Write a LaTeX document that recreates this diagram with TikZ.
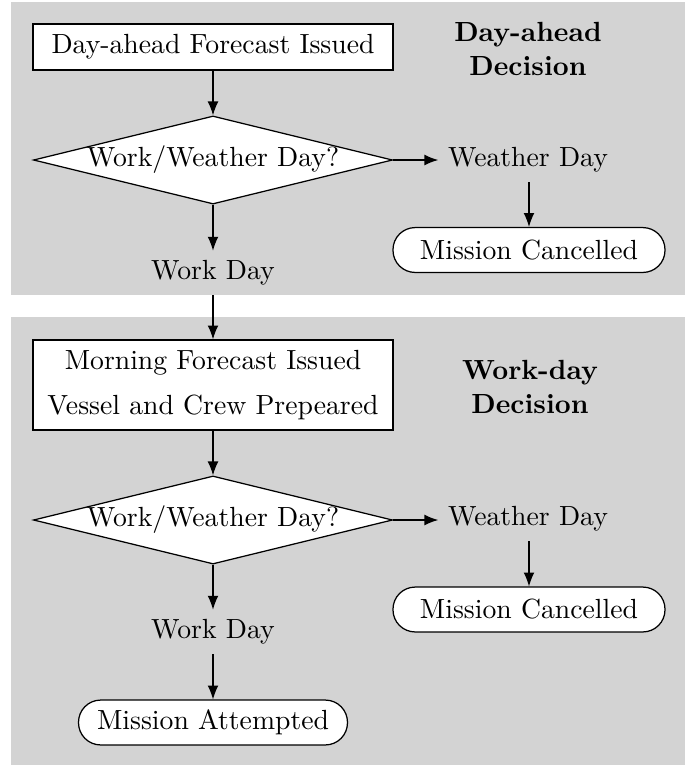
\documentclass[tikz,border=0pt]{standalone}
\usetikzlibrary{shapes.geometric,arrows.meta}
\definecolor{panel}{RGB}{211,211,211}
\begin{document}
\begin{tikzpicture}[x=0.361pt,y=-0.361pt, line width=0.45pt,
  boxnode/.style={draw, fill=white, rectangle, inner sep=0pt, minimum width=130pt},
  decision/.style={draw, fill=white, diamond, inner sep=0pt, minimum width=129.6pt, minimum height=31.8pt},
  endnode/.style={draw, fill=white, rectangle, rounded corners=8pt, inner sep=0pt, minimum height=16.2pt},
  plain/.style={inner sep=3.33pt},
  title/.style={align=center, font=\bfseries},
  arr/.style={-{Latex[length=5pt,width=3.9pt]}}]
\useasboundingbox (0,0) rectangle (697,766);
\fill[white] (0,0) rectangle (697,766);
\fill[panel] (11,2) rectangle (685,295);
\fill[panel] (11,317) rectangle (685,765);

% top panel
\node[boxnode, minimum height=16.6pt] (b1) at (213,47) {Day-ahead Forecast Issued};
\node[decision] (d1) at (213,160) {};
\node[plain] (q1) at (d1) {Work/Weather Day?};
\node[plain] (wd1) at (213,273) {Work Day};
\node[plain] (we1) at (528,160) {Weather Day};
\node[endnode, minimum width=98.2pt] (mc1) at (529,250) {Mission Cancelled};
\node[title] (t1) at (528,49) {Day-ahead\\Decision};

% bottom panel
\node[boxnode, minimum height=32.5pt, align=center] (b2) at (213,385) {Morning Forecast Issued\\[4.3pt]Vessel and Crew Prepeared};
\node[decision] (d2) at (213,520) {};
\node[plain] (q2) at (d2) {Work/Weather Day?};
\node[plain] (wd2) at (213,632) {Work Day};
\node[plain] (we2) at (528,519) {Weather Day};
\node[endnode, minimum width=98.2pt] (mc2) at (529,609.5) {Mission Cancelled};
\node[endnode, minimum width=97.1pt] (ma) at (213,722.5) {Mission Attempted};
\node[title] (t2) at (530,387) {Work-day\\Decision};

% connectors
\draw[arr] (b1) -- (d1.north);
\draw[arr] (d1.south) -- (wd1);
\draw[arr] (d1.east) -- (d1.east -| we1.west);
\draw[arr] (we1.south -| mc1.north) -- (mc1.north);
\draw[arr] (wd1) -- (b2);
\draw[arr] (b2) -- (d2.north);
\draw[arr] (d2.south) -- (wd2);
\draw[arr] (d2.east) -- (d2.east -| we2.west);
\draw[arr] (we2.south -| mc2.north) -- (mc2.north);
\draw[arr] (wd2) -- (ma);
\end{tikzpicture}
\end{document}
